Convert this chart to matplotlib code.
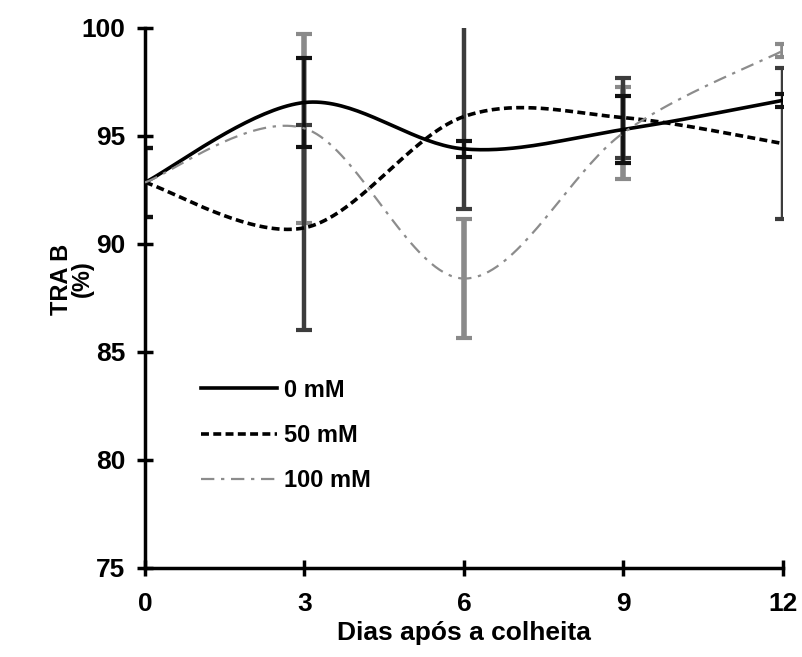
import numpy as np
import matplotlib.pyplot as plt

plt.rcParams['font.family'] = ['Liberation Sans', 'DejaVu Sans']
plt.rcParams['font.weight'] = 'bold'

# dados
dias = [0, 3, 6, 9, 12]
labels = ['0 mM', '50 mM', '100 mM']
media_0 = [92.85, 96.55, 94.4, 95.3, 96.65]
media_50 = [92.85, 90.75, 95.9, 95.85, 94.65]
media_100 = [92.85, 95.35, 88.4, 95.15, 98.95]
erro_0 = [1.6, 2.05, 0.35, 1.55, 0.3]
erro_50 = [1.6, 4.75, 4.3, 1.85, 3.5]
erro_100 = [1.6, 4.37, 2.75, 2.12, 0.3]


def suaviza(x, y, n=40):
    # curva suavizada tipo Excel (Bezier / Catmull-Rom)
    x = np.asarray(x, float); y = np.asarray(y, float)
    px = np.concatenate([[x[0]], x, [x[-1]]])
    py = np.concatenate([[y[0]], y, [y[-1]]])
    xs, ys = [], []
    t = np.linspace(0, 1, n)
    for i in range(1, len(px) - 2):
        p0 = np.array([px[i], py[i]]); p3 = np.array([px[i + 1], py[i + 1]])
        p1 = p0 + (np.array([px[i + 1], py[i + 1]]) - np.array([px[i - 1], py[i - 1]])) / 6
        p2 = p3 - (np.array([px[i + 2], py[i + 2]]) - np.array([px[i], py[i]])) / 6
        b = ((1 - t) ** 3)[:, None] * p0 + (3 * (1 - t) ** 2 * t)[:, None] * p1 \
            + (3 * (1 - t) * t ** 2)[:, None] * p2 + (t ** 3)[:, None] * p3
        xs.append(b[:, 0]); ys.append(b[:, 1])
    return np.concatenate(xs), np.concatenate(ys)


fig = plt.figure(figsize=(8.03, 6.57), dpi=100)
ax = fig.add_axes([0.1806, 0.1355, 0.7944, 0.8219])

series = [
    (media_100, erro_100, '#8a8a8a', 4.0, dict(color='#8c8c8c', lw=1.6, ls=(0, (6, 3, 1.5, 3)))),
    (media_50, erro_50, '#3c3c3c', 3.2, dict(color='black', lw=2.6, ls=(0, (2.2, 1.2)))),
    (media_0, erro_0, '#111111', 2.6, dict(color='black', lw=2.6, ls='-')),
]

for media, erro, ecor, elw, estilo in series:
    eb = ax.errorbar(dias, media, yerr=erro, fmt='none', ecolor=ecor, elinewidth=elw,
                     capsize=6, capthick=3, zorder=2)
    for cap in eb[1]:
        cap.set_color('black')

handles = {}
for media, nome in zip([media_0, media_50, media_100], labels):
    idx = {'0 mM': 2, '50 mM': 1, '100 mM': 0}[nome]
    xs, ys = suaviza(dias, media)
    handles[nome], = ax.plot(xs, ys, zorder=3, **series[idx][4])

ax.set_xlim(0, 12)
ax.set_ylim(75, 100)
ax.set_xticks(dias)
ax.set_yticks([75, 80, 85, 90, 95, 100])
for s in ['top', 'right']:
    ax.spines[s].set_visible(False)
for s in ['left', 'bottom']:
    ax.spines[s].set_linewidth(2.5)
    ax.spines[s].set_clip_on(False)
ax.tick_params(direction='inout', length=12, width=2.5, labelsize=19, pad=8)
ax.tick_params(axis='x', pad=11)
ax.set_xlabel('Dias após a colheita', fontsize=19, fontweight='bold', labelpad=4)
ax.set_ylabel('TRA B\n(%)', fontsize=17, fontweight='bold', linespacing=0.9)
ax.yaxis.set_label_coords(-0.08, 0.535)

leg = ax.legend([handles[n] for n in labels], labels, loc='upper left',
                bbox_to_anchor=(0.055, 0.39), frameon=False, fontsize=17,
                handlelength=3.2, labelspacing=0.95, handletextpad=0.3)

fig.savefig('out.png', dpi=100)
